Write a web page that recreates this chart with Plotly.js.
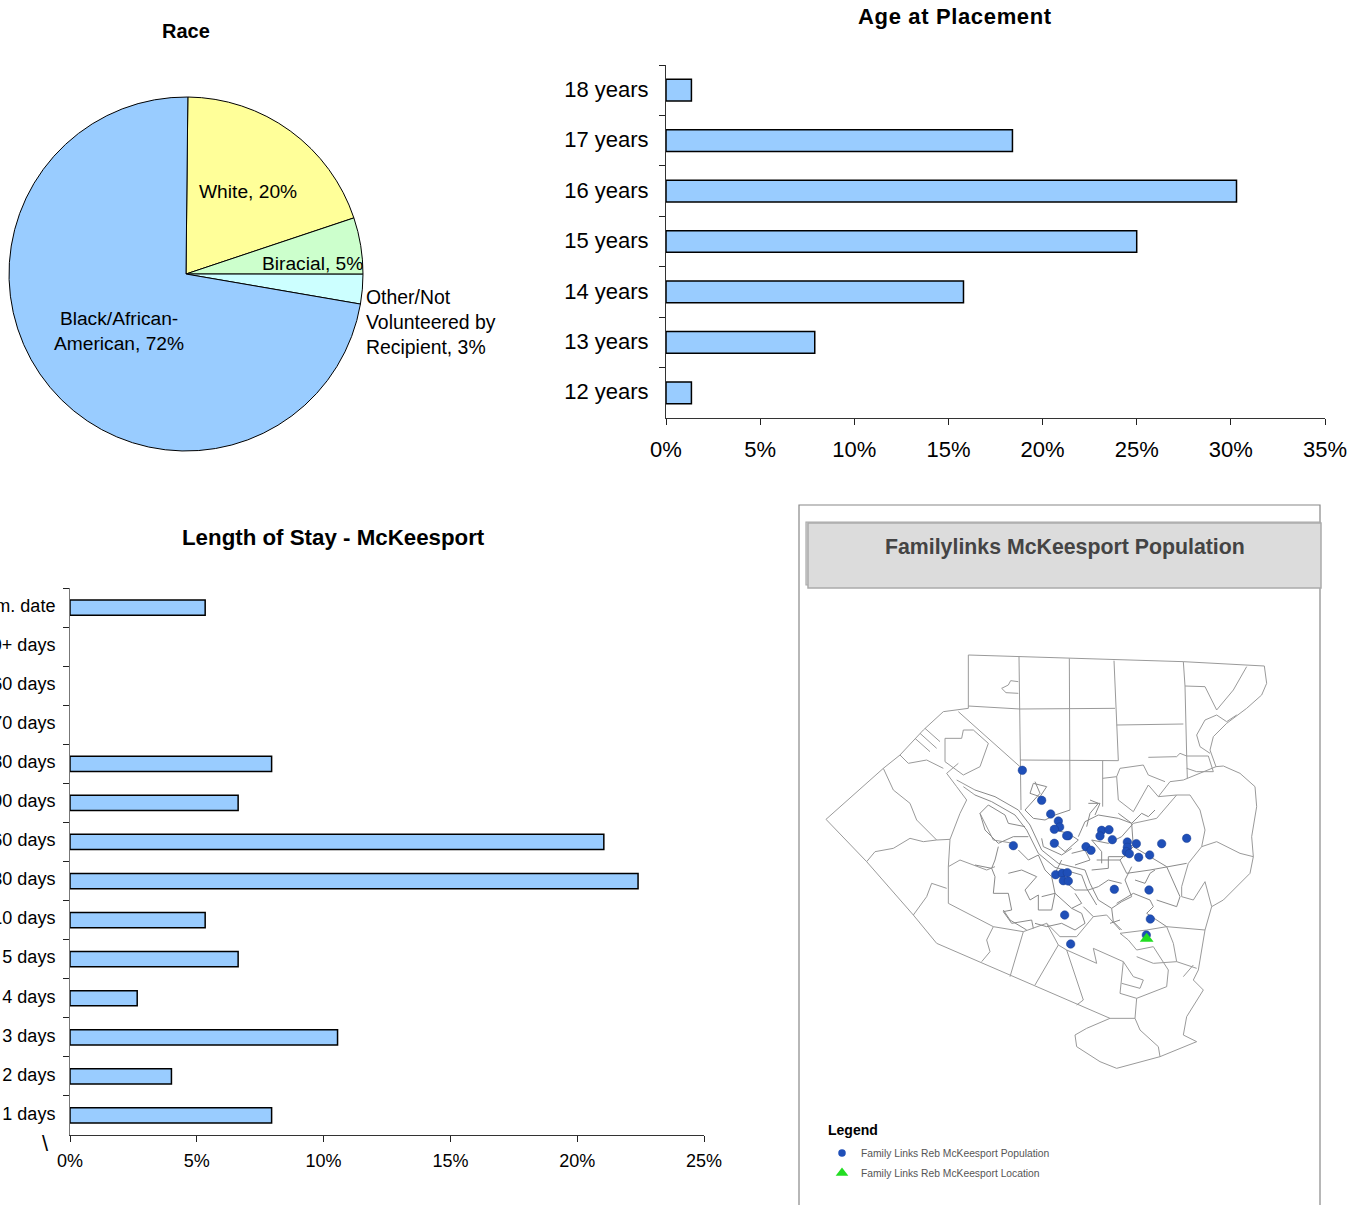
<!DOCTYPE html>
<html><head><meta charset="utf-8">
<script src="https://cdn.plot.ly/plotly-3.0.1.min.js"></script>
<style>html,body{margin:0;padding:0;background:#fff}#c{width:1364px;height:1205px}
.annotation-text[data-unformatted*="Age at"]{letter-spacing:.65px}</style></head>
<body><div id="c"></div>
<script>
// ---------- Race pie
const raceLabels = ["White","Biracial","Other/Not Volunteered by Recipient","Black/African-American"];
const raceValues = [19.7,5.15,2.7,72.45];
const raceColors = ["#FFFF99","#CCFFCC","#CCFFFF","#99CCFF"];
// ---------- Age at placement
const ageCats = ["12 years","13 years","14 years","15 years","16 years","17 years","18 years"];
const ageVals = [1.35,7.9,15.8,25.0,30.3,18.4,1.35];
const ageTicks = [0,5,10,15,20,25,30,35];
// ---------- Length of stay
const stayCats = ["1 days","2 days","3 days","4 days","5 days","6-10 days","11-30 days","31-60 days","61-90 days","91-180 days","181-270 days","271-360 days","360+ days","Term. date"];
const stayVals = [7.95,4.0,10.55,2.65,6.63,5.33,22.4,21.05,6.63,7.95,null,null,null,5.33];
const stayTicks = [0,5,10,15,20,25];
// ---------- Map population dots
const popX = [667,725,752,775,779,763,805,800,763,640,858,873,905,927,900,937,982,982,979,988,1009,1085,1160,1016,1049,767,787,802,790,805,943,1047,794,1051,812,1039];
const popY = [391,481,522,543,561,568,587,587,610,617,620,631,571,569,588,599,606,622,635,641,611,611,595,652,645,704,700,698,722,723,748,750,825,837,912,885];
const siteX = [1040], siteY = [896];
const legendPopX=[126], legendPopY=[1539], legendSiteX=[126], legendSiteY=[1599];
// ---------- Map boundaries
const countyOutline = [[505,45],[800,55],[1150,65],[1393,78],[1400,130],[1385,165],[1340,205],[1280,250],[1240,290],[1230,330],[1248,380],[1270,378],[1320,400],[1365,440],[1370,500],[1355,590],[1360,650],[1350,700],[1300,750],[1270,780],[1235,800],[1215,870],[1195,990],[1180,1020],[1210,1050],[1160,1130],[1150,1185],[1190,1205],[1080,1250],[950,1285],[900,1265],[830,1220],[825,1185],[860,1165],[930,1135],[700,1035],[540,965],[410,910],[340,825],[200,665],[78,538],[250,385],[300,345],[370,270],[430,215],[505,205],[505,45]];
const northLines = [
[[657,50],[660,360],[663,510]],[[808,55],[810,510]],[[942,62],[948,205],[950,255],[955,362]],[[1150,65],[1155,138],[1160,345],[1162,415]],
[[505,198],[660,207],[945,205]],[[660,360],[955,362]],[[950,255],[1150,252]],[[1155,138],[1215,140],[1250,210],[1300,150],[1340,80]],
[[655,125],[632,122],[625,135],[605,145],[618,158],[655,160]],[[908,362],[908,500]],[[1045,352],[1130,350],[1140,340],[1160,348],[1225,348],[1240,395]],
[[1215,240],[1190,285],[1200,320],[1230,340]],[[1215,240],[1250,225],[1280,245],[1310,225]],[[1160,385],[1190,395],[1240,395]],
[[908,415],[950,410],[960,385],[1030,375],[1045,405],[1095,425]],[[950,410],[955,480],[1000,515],[1035,450],[1045,435],[1075,470]]
];
const eastLines = [
[[1075,470],[1110,425],[1150,420],[1248,380]],[[1075,470],[1130,465],[1170,465],[1200,510],[1215,570],[1205,620],[1165,670],[1145,740],[1145,770]],
[[1205,620],[1250,605],[1320,640],[1360,650]],[[1145,770],[1180,780],[1215,725],[1235,800]],[[1000,550],[1070,535],[1130,465]]
];
const westLines = [
[[250,385],[280,450],[330,490],[350,540],[410,600],[370,605],[330,595],[280,625],[225,635],[200,665]],[[410,600],[450,598],[480,520],[500,480],[470,440],[440,400],[475,370]],
[[300,345],[325,370],[380,360],[430,385]],[[435,295],[435,365],[490,405],[540,380],[565,310],[520,270],[490,270],[485,295],[435,295]],
[[345,295],[390,335]],[[360,280],[410,325]],[[375,265],[420,305]],[[475,215],[660,380]],[[470,420],[525,450]],[[490,440],[525,465]],
[[540,520],[580,600],[640,610]],[[450,598],[445,680],[445,790],[540,840],[580,860]],[[445,680],[480,660],[560,690],[585,680]],[[340,825],[380,770],[395,730],[440,745]],
[[580,860],[560,900],[570,935],[545,965]],[[580,860],[670,875],[630,1010]],[[775,915],[705,1035]],[[800,930],[850,1080],[830,1095]],
[[670,875],[740,850],[775,915],[800,930],[890,970],[880,925],[970,965]],[[740,850],[780,890],[830,890],[880,830],[920,825],[960,870]]
];
const centerLines = [
[[525,450],[585,470],[655,510],[690,555],[725,630],[775,670],[855,690],[870,730],[895,780],[935,805]],
[[525,465],[575,485],[645,525],[680,570],[715,640],[765,682],[845,705],[860,745],[890,795]],
[[835,590],[855,545],[895,525],[955,535],[995,550],[1000,620],[960,660],[890,660]],
[[540,520],[565,495],[615,525],[625,550],[675,560]],
[[540,520],[555,570],[595,610],[640,590],[685,590]],
[[525,675],[575,685],[585,660],[595,620]],
[[575,685],[585,710],[580,760],[625,760],[635,810],[610,815],[635,850],[695,840],[700,865]],
[[655,630],[685,660],[715,645]],
[[625,700],[665,690],[710,710],[675,750],[690,780],[715,765],[715,810]],
[[715,645],[735,690],[755,710],[765,760],[815,805],[845,790],[825,760]],
[[725,770],[765,760],[755,810],[715,810]],
[[815,805],[845,820],[855,850],[825,870],[785,850],[740,860],[705,850]],
[[875,690],[925,685],[925,650],[975,650],[995,615]],
[[905,670],[905,635],[875,600],[925,610],[965,590],[1000,550]],
[[995,680],[975,720],[995,770],[965,785],[935,805],[940,845],[965,870]],
[[865,750],[895,740],[925,720],[965,730]],
[[705,425],[720,460],[675,510],[700,535],[735,540],[765,525],[810,510]],
[[865,490],[900,490],[885,525]],
[[955,520],[995,550],[1025,520],[1045,530],[1065,510]],
[[765,570],[805,580],[835,600],[795,635],[765,610]],
[[725,595],[730,620],[785,645],[815,625]],
[[815,640],[855,630],[870,660],[825,675]],
[[1005,720],[1035,730],[1050,700],[1065,690]],
[[785,660],[765,700],[825,750],[865,750]],
[[960,660],[980,700],[1050,690],[1100,680],[1160,670]],
[[1000,760],[1050,780],[1060,800],[1040,820],[1100,860]],[[1000,760],[950,790]],
[[1100,680],[1140,770],[1130,800],[1070,780]],[[1000,620],[1050,650],[1100,680]],
[[700,430],[740,440],[720,470],[690,460],[700,430]],[[870,480],[895,490],[870,520],[860,560]],
[[930,850],[960,840]],[[610,810],[630,840],[680,870]],[[850,800],[880,830]]
];
const southLines = [
[[960,880],[1040,870],[1100,860],[1215,870]],[[1100,860],[1120,910],[1130,965],[1190,985]],[[970,965],[960,1060],[1010,1075],[1100,1040],[1105,990],[1060,920],[1010,930],[985,900],[960,880]],
[[970,965],[1000,1010],[1030,1020],[1020,1045],[965,1030]],[[1010,1075],[1005,1135],[1020,1170],[1075,1220],[1080,1250]],[[1005,1135],[930,1135]],[[1150,1010],[1180,975]],[[1010,950],[1060,970],[1130,965]]
];
function flat(lines){const x=[],y=[];lines.forEach(l=>{l.forEach(p=>{x.push(p[0]);y.push(p[1])});x.push(null);y.push(null)});return {x,y}}
const W=1364,H=1205,px=v=>v/W,py=v=>1-v/H;
const FONT="Liberation Sans, Arial, sans-serif";
const barBlue="#99CCFF";
const outerLines=flat([countyOutline].concat(northLines,eastLines,westLines,southLines));
const innerLines=flat(centerLines);
const traces=[
 {type:"pie",labels:raceLabels,values:raceValues,sort:false,direction:"clockwise",rotation:0.6,textinfo:"none",hoverinfo:"label+percent",
  marker:{colors:raceColors,line:{color:"#000",width:1}},domain:{x:[px(9),px(363)],y:[py(451),py(97)]},showlegend:false},
 {type:"bar",orientation:"h",y:ageCats,x:ageVals,xaxis:"x",yaxis:"y",marker:{color:barBlue,line:{color:"#000",width:1.5}},width:0.43,showlegend:false},
 {type:"bar",orientation:"h",y:stayCats,x:stayVals,xaxis:"x2",yaxis:"y2",marker:{color:barBlue,line:{color:"#000",width:1.5}},width:0.39,showlegend:false},
 {type:"scatter",mode:"lines",x:outerLines.x,y:outerLines.y,xaxis:"x3",yaxis:"y3",line:{color:"#9a9a9a",width:1},hoverinfo:"skip",showlegend:false},
 {type:"scatter",mode:"lines",x:innerLines.x,y:innerLines.y,xaxis:"x3",yaxis:"y3",line:{color:"#8a8a8a",width:1},hoverinfo:"skip",showlegend:false},
 {type:"scatter",mode:"markers",x:popX,y:popY,xaxis:"x3",yaxis:"y3",marker:{color:"#1F4FB8",size:8.5,line:{color:"#1a3f90",width:.5}},showlegend:false},
 {type:"scatter",mode:"markers",x:siteX,y:siteY,xaxis:"x3",yaxis:"y3",marker:{color:"#22DD22",symbol:"triangle-up",size:12},showlegend:false},
 {type:"scatter",mode:"markers",x:legendPopX,y:legendPopY,xaxis:"x3",yaxis:"y3",marker:{color:"#1F4FB8",size:7.5},showlegend:false},
 {type:"scatter",mode:"markers",x:legendSiteX,y:legendSiteY,xaxis:"x3",yaxis:"y3",marker:{color:"#22DD22",symbol:"triangle-up",size:11},showlegend:false}
];
function ann(x,y,text,size,opts){return Object.assign({xref:"paper",yref:"paper",x:px(x),y:py(y),text,showarrow:false,font:{family:FONT,size,color:"#000"},xanchor:"center",yanchor:"middle"},opts||{})}
const annotations=[
 ann(186,31,"<b>Race</b>",20),
 ann(955,17,"<b>Age at Placement</b>",22),
 ann(333,537.5,"<b>Length of Stay - McKeesport</b>",22.3),
 ann(248,191,"White, 20%",19.2),
 ann(312,263,"Biracial, 5%",19.2),
 ann(364,322,"Other/Not<br>Volunteered by<br>Recipient, 3%",19.4,{xanchor:"left",align:"left"}),
 ann(119,331,"Black/African-<br>American, 72%",19.2),
 ann(45,1143,"\\",22),
 ann(1065,547,"<b>Familylinks McKeesport Population</b>",21.3,{font:{family:FONT,size:21.3,color:"#444"}}),
 ann(826,1130,"<b>Legend</b>",14,{xanchor:"left"}),
 ann(859,1153,"Family Links Reb McKeesport Population",10.3,{xanchor:"left",font:{family:FONT,size:10.3,color:"#555"}}),
 ann(859,1173,"Family Links Reb McKeesport Location",10.3,{xanchor:"left",font:{family:FONT,size:10.3,color:"#555"}})
];
const shapes=[
 {type:"rect",xref:"paper",yref:"paper",x0:px(799),x1:px(1320),y0:py(1215),y1:py(505),line:{color:"#888",width:1.2},fillcolor:"rgba(0,0,0,0)",layer:"below"},
 {type:"rect",xref:"paper",yref:"paper",x0:px(806),x1:px(1320),y0:py(585),y1:py(522),line:{color:"#aaa",width:1.2},fillcolor:"#DCDCDC",layer:"below"},
 {type:"rect",xref:"paper",yref:"paper",x0:px(808),x1:px(1321),y0:py(588),y1:py(523),line:{color:"#aaa",width:1.5},fillcolor:"#DCDCDC",layer:"below"}
];
const axisCommon={showgrid:false,zeroline:false,showline:true,ticks:"outside",tickcolor:"#222",tickwidth:1,linewidth:1,fixedrange:true};
const layout={
 width:W,height:H,margin:{l:0,r:0,t:0,b:0},paper_bgcolor:"#fff",plot_bgcolor:"rgba(0,0,0,0)",font:{family:FONT,color:"#000"},
 showlegend:false,annotations,shapes,hovermode:"closest",
 xaxis:Object.assign({},axisCommon,{domain:[px(666),px(1325)],range:[0,35],tickvals:ageTicks,ticktext:ageTicks.map(t=>t+"%"),tickfont:{size:22,family:FONT},ticklen:6,linecolor:"#333",anchor:"y",ticklabelstandoff:6}),
 yaxis:Object.assign({},axisCommon,{domain:[py(418),py(65)],range:[-0.5,6.5],type:"category",categoryorder:"array",categoryarray:ageCats,tickson:"boundaries",tickfont:{size:22,family:FONT},ticklen:6,linecolor:"#333",anchor:"x",ticklabelstandoff:12,ticklabelshift:-1}),
 xaxis2:Object.assign({},axisCommon,{domain:[px(70),px(704)],range:[0,25],tickvals:stayTicks,ticktext:stayTicks.map(t=>t+"%"),tickfont:{size:18,family:FONT},ticklen:6,linecolor:"#333",anchor:"y2",ticklabelstandoff:3}),
 yaxis2:Object.assign({},axisCommon,{domain:[py(1135),py(588)],range:[-0.5,13.5],type:"category",categoryorder:"array",categoryarray:stayCats,tickson:"boundaries",tickfont:{size:18,family:FONT},ticklen:6,linecolor:"#777",anchor:"x2",ticklabelstandoff:10,ticklabelshift:-2}),
 xaxis3:{domain:[px(800),px(1320)],range:[0,1560],visible:false,fixedrange:true,anchor:"y3"},
 yaxis3:{domain:[py(1205),py(505)],range:[1695,-405],visible:false,fixedrange:true,anchor:"x3"}
};
Plotly.newPlot("c",traces,layout,{displayModeBar:false,responsive:false});
</script></body></html>
